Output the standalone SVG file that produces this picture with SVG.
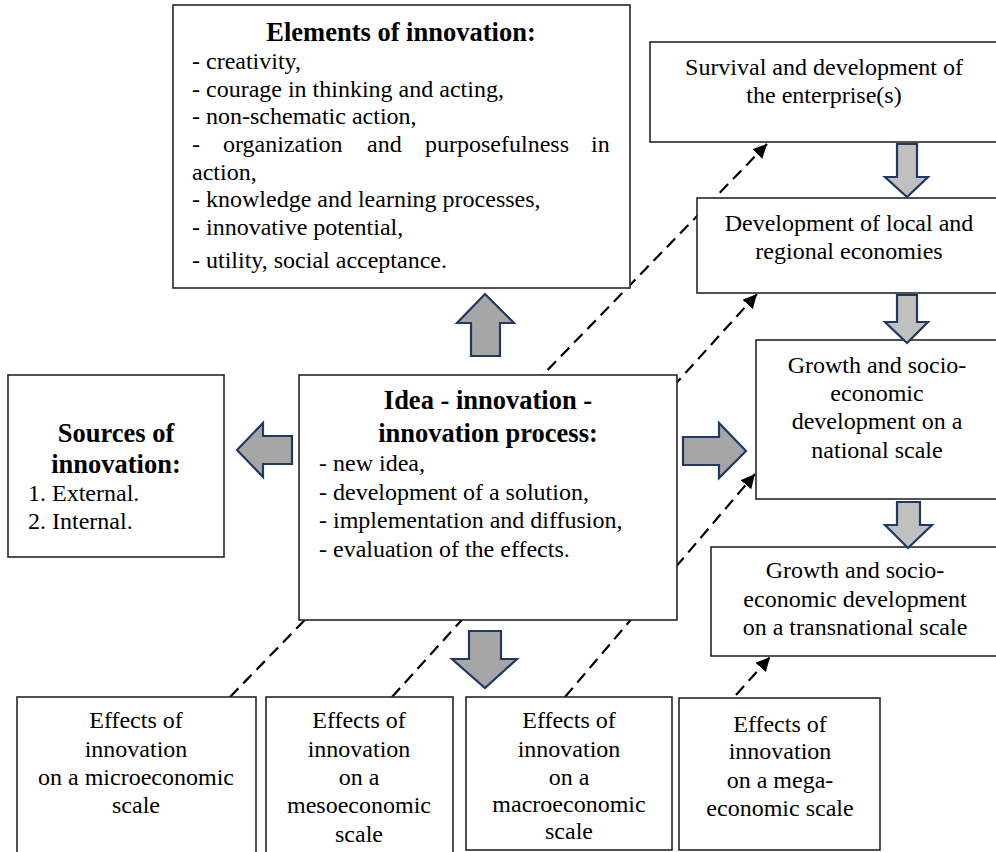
<svg xmlns="http://www.w3.org/2000/svg" width="996" height="852" viewBox="0 0 996 852">
<style>
.box{fill:#fff;stroke:#262626;stroke-width:1.6}
.t{font-family:"Liberation Serif","Times New Roman",serif;font-size:24px;fill:#000}
.b{font-family:"Liberation Serif","Times New Roman",serif;font-size:26.5px;font-weight:bold;fill:#000}
.c{text-anchor:middle}
.dash{fill:none;stroke:#000;stroke-width:2.2;stroke-dasharray:12 7}
.blk{stroke:#1f3864;stroke-width:2.2;stroke-linejoin:miter}
.g1{fill:#a6a6a6}
.g2{fill:#c0c0c0}
</style>
<defs>
<marker id="ah" viewBox="0 0 10 10" refX="10" refY="5" markerWidth="14" markerHeight="14" markerUnits="userSpaceOnUse" orient="auto">
<path d="M0,0 L10,5 L0,10 z" fill="#000"/>
</marker>
</defs>
<rect width="996" height="852" fill="#fff"/>
<g id="connectors">
<line class="dash" x1="230" y1="697" x2="767" y2="144" marker-end="url(#ah)"/>
<line class="dash" x1="392" y1="697" x2="757" y2="294" marker-end="url(#ah)"/>
<line class="dash" x1="565" y1="697" x2="755" y2="474" marker-end="url(#ah)"/>
<line class="dash" x1="736" y1="695" x2="770" y2="657" marker-end="url(#ah)"/>
</g>
<g id="elements">
<rect class="box" x="173" y="5" width="457" height="283"/>
<text class="b c" x="401" y="41">Elements of innovation:</text>
<text class="t" x="192" y="69">- creativity,</text>
<text class="t" x="192" y="97">- courage in thinking and acting,</text>
<text class="t" x="192" y="124">- non-schematic action,</text>
<text class="t" y="152"><tspan x="192">-</tspan><tspan x="223">organization</tspan><tspan x="367">and</tspan><tspan x="425">purposefulness</tspan><tspan x="591">in</tspan></text>
<text class="t" x="192" y="180">action,</text>
<text class="t" x="192" y="207">- knowledge and learning processes,</text>
<text class="t" x="192" y="235">- innovative potential,</text>
<text class="t" x="192" y="268">- utility, social acceptance.</text>
</g>
<g id="survival">
<rect class="box" x="650" y="42" width="350" height="100"/>
<text class="t c" x="824" y="75">Survival and development of</text>
<text class="t c" x="824" y="103">the enterprise(s)</text>
</g>
<g id="regional">
<rect class="box" x="697" y="198" width="305" height="95"/>
<text class="t c" x="849" y="231">Development of local and</text>
<text class="t c" x="849" y="259">regional economies</text>
</g>
<g id="national">
<rect class="box" x="756" y="340" width="244" height="159"/>
<text class="t c" x="877" y="373">Growth and socio-</text>
<text class="t c" x="877" y="401">economic</text>
<text class="t c" x="877" y="429">development on a</text>
<text class="t c" x="877" y="458">national scale</text>
</g>
<g id="transnational">
<rect class="box" x="711" y="547" width="290" height="109"/>
<text class="t c" x="855" y="578">Growth and socio-</text>
<text class="t c" x="855" y="607">economic development</text>
<text class="t c" x="855" y="635">on a transnational scale</text>
</g>
<g id="sources">
<rect class="box" x="8" y="375" width="216" height="182"/>
<text class="b c" x="116" y="442">Sources of</text>
<text class="b c" x="116" y="473">innovation:</text>
<text class="t" x="28" y="501">1. External.</text>
<text class="t" x="28" y="529">2. Internal.</text>
</g>
<g id="idea">
<rect class="box" x="299" y="375" width="378" height="245"/>
<text class="b c" x="488" y="409">Idea - innovation -</text>
<text class="b c" x="488" y="442">innovation process:</text>
<text class="t" x="319" y="471">- new idea,</text>
<text class="t" x="319" y="500">- development of a solution,</text>
<text class="t" x="319" y="528">- implementation and diffusion,</text>
<text class="t" x="319" y="557">- evaluation of the effects.</text>
</g>
<g id="micro">
<rect class="box" x="17" y="697" width="239" height="165"/>
<text class="t c" x="136" y="728">Effects of</text>
<text class="t c" x="136" y="757">innovation</text>
<text class="t c" x="136" y="785">on a microeconomic</text>
<text class="t c" x="136" y="813">scale</text>
</g>
<g id="meso">
<rect class="box" x="266" y="697" width="187" height="165"/>
<text class="t c" x="359" y="728">Effects of</text>
<text class="t c" x="359" y="757">innovation</text>
<text class="t c" x="359" y="785">on a</text>
<text class="t c" x="359" y="813">mesoeconomic</text>
<text class="t c" x="359" y="842">scale</text>
</g>
<g id="macro">
<rect class="box" x="466" y="697" width="206" height="153"/>
<text class="t c" x="569" y="728">Effects of</text>
<text class="t c" x="569" y="757">innovation</text>
<text class="t c" x="569" y="785">on a</text>
<text class="t c" x="569" y="812">macroeconomic</text>
<text class="t c" x="569" y="839">scale</text>
</g>
<g id="mega">
<rect class="box" x="679" y="698" width="201" height="152"/>
<text class="t c" x="780" y="732">Effects of</text>
<text class="t c" x="780" y="759">innovation</text>
<text class="t c" x="780" y="788">on a mega-</text>
<text class="t c" x="780" y="816">economic scale</text>
</g>
<g id="block-arrows">
<path class="blk g1" d="M471,356 L471,323 L457,323 L485,294 L514,323 L500,323 L500,356 Z"/>
<path class="blk g1" d="M469,631 L501,631 L501,659 L517,659 L485,688 L452,659 L469,659 Z"/>
<path class="blk g1" d="M292,436 L263,436 L263,423 L237,450 L263,477 L263,464 L292,464 Z"/>
<path class="blk g1" d="M683,437 L719,437 L719,423 L746,451 L719,478 L719,465 L683,465 Z"/>
<path class="blk g2" d="M897,144 L917,144 L917,177 L928,177 L907,197 L885,177 L897,177 Z"/>
<path class="blk g2" d="M897,295 L917,295 L917,322 L928,322 L907,343 L885,322 L897,322 Z"/>
<path class="blk g2" d="M897,502 L920,502 L920,525 L932,525 L908,548 L885,525 L897,525 Z"/>
</g>
</svg>
